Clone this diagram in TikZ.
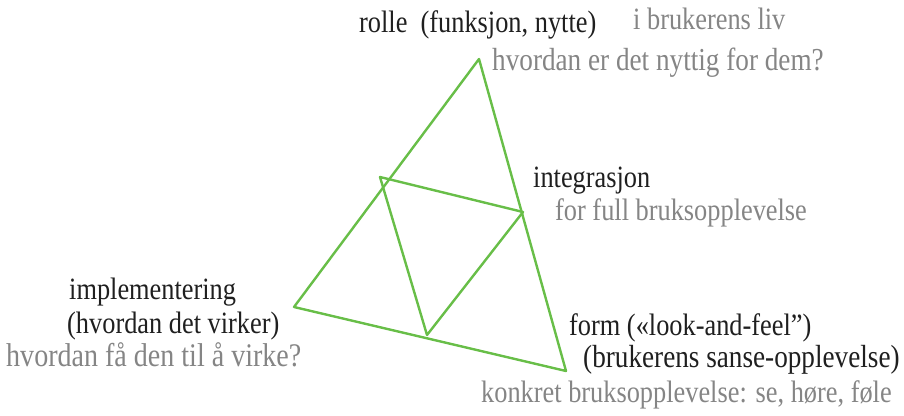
\documentclass[tikz,border=0pt]{standalone}
\usepackage{fontspec}
\setmainfont{Liberation Serif}[FakeStretch=0.85]
\definecolor{verde}{RGB}{104,190,72}

\begin{document}
\begin{tikzpicture}[
  x=1pt, y=-1pt,
  font=\fontsize{31}{34}\selectfont,
  linea/.style={draw=verde, line width=2.4pt, line join=round},
  titulo/.style={anchor=base west, inner sep=0pt, text=black!88},
  nota/.style={anchor=base west, inner sep=0pt, text=black!48}
]
\useasboundingbox (0,0) rectangle (904,415);

% Triangulo exterior e interior
\coordinate (cima) at (479,59);
\coordinate (izq) at (294,307);
\coordinate (der) at (566,371);
\coordinate (mi) at (380,177);
\coordinate (md) at (523,212);
\coordinate (mb) at (427,335);

\draw[linea] (cima) -- (izq) -- (der) -- cycle;
\draw[linea] (mi) -- (md) -- (mb) -- cycle;

% Arriba: rolle
\node[titulo] (rolle) at (359,32) {rolle\ \ (funksjon, nytte)};
\node[nota] (liv) at (633,29) {i brukerens liv};
\node[nota, font=\fontsize{32}{35}\selectfont] (nyttig) at (492,70) {hvordan er det nyttig for dem?};

% Derecha: integrasjon
\node[titulo] (integ) at (533,187) {integrasjon};
\node[nota] (full) at (555,220) {for full bruksopplevelse};

% Izquierda: implementering
\node[titulo] (impl) at (69,299) {implementering};
\node[titulo] (virker) at (67,333) {(hvordan det virker)};
\node[nota, font=\fontsize{33}{36}\selectfont] (virke) at (6,366) {hvordan få den til å virke?};

% Abajo: form
\node[titulo] (form) at (569,335) {form («look-and-feel”)};
\node[titulo, font=\fontsize{32}{35}\selectfont] (sanse) at (583,367) {(brukerens sanse-opplevelse)};
\node[nota] (konkret) at (481,402) {konkret bruksopplevelse: se, høre, føle};
\end{tikzpicture}
\end{document}
